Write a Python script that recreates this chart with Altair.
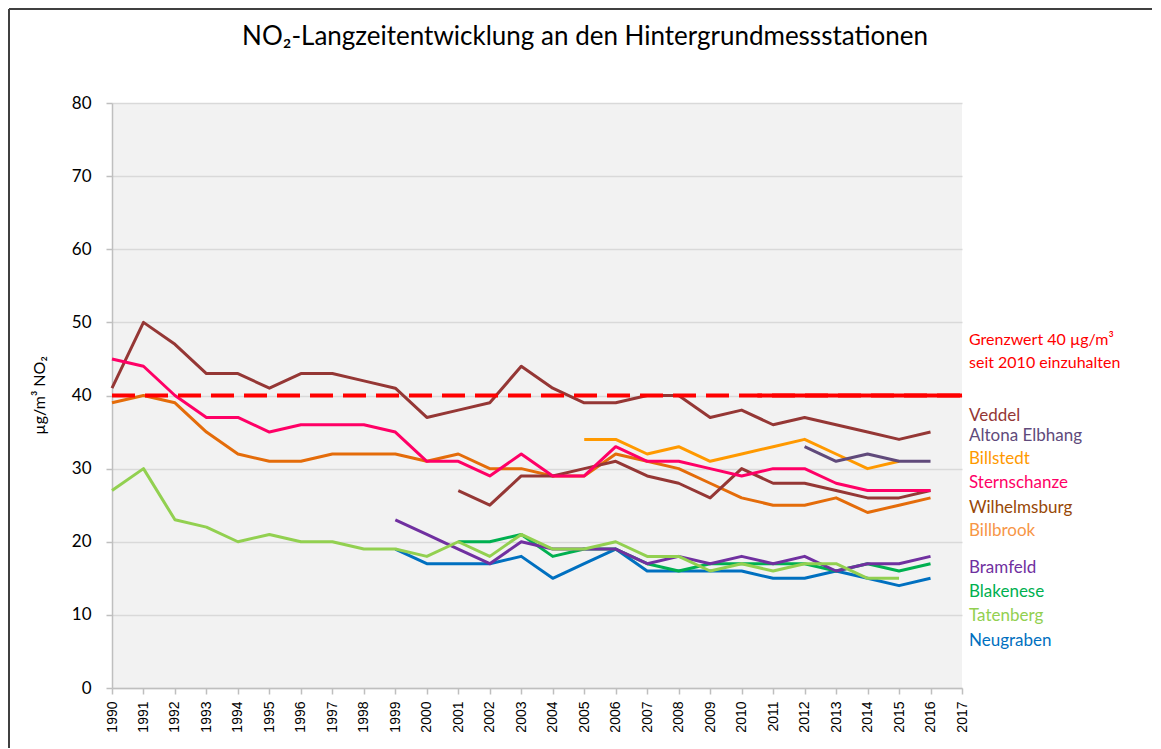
import altair as alt
import pandas as pd

# ---------------- data ----------------
TITLE = "NO₂-Langzeitentwicklung an den Hintergrundmessstationen"
Y_TITLE = "µg/m³ NO₂"

tick_years = list(range(1990, 2018))
y_ticks = [0, 10, 20, 30, 40, 50, 60, 70, 80]

veddel = [41, 50, 47, 43, 43, 41, 43, 43, 42, 41, 37, 38, 39, 44, 41, 39, 39, 40, 40, 37, 38, 36, 37, 36, 35, 34, 35]
billbrook = [39, 40, 39, 35, 32, 31, 31, 32, 32, 32, 31, 32, 30, 30, 29, 29, 32, 31, 30, 28, 26, 25, 25, 26, 24, 25, 26]
wilhelmsburg = [27, 25, 29, 29, 30, 31, 29, 28, 26, 30, 28, 28, 27, 26, 26, 27]
billstedt = [34, 34, 32, 33, 31, 32, 33, 34, 32, 30, 31]
altona = [33, 31, 32, 31, 31]
sternschanze = [45, 44, 40, 37, 37, 35, 36, 36, 36, 35, 31, 31, 29, 32, 29, 29, 33, 31, 31, 30, 29, 30, 30, 28, 27, 27, 27]
neugraben = [19, 17, 17, 17, 18, 15, 17, 19, 16, 16, 16, 16, 15, 15, 16, 15, 14, 15]
blakenese = [20, 20, 21, 18, 19, 19, 17, 16, 17, 17, 17, 17, 16, 17, 16, 17]
bramfeld = [23, 21, 19, 17, 20, 19, 19, 19, 17, 18, 17, 18, 17, 18, 16, 17, 17, 18]
tatenberg = [27, 30, 23, 22, 20, 21, 20, 20, 19, 19, 18, 20, 18, 21, 19, 19, 20, 18, 18, 16, 17, 16, 17, 17, 15, 15]

series_names = ["Veddel", "Billbrook", "Wilhelmsburg", "Billstedt", "Altona Elbhang",
                "Sternschanze", "Neugraben", "Blakenese", "Bramfeld", "Tatenberg"]
series_start = [1990, 1990, 2001, 2005, 2012, 1990, 1999, 2001, 1999, 1990]
series_values = [veddel, billbrook, wilhelmsburg, billstedt, altona,
                 sternschanze, neugraben, blakenese, bramfeld, tatenberg]
line_colors = ["#953735", "#E46C0A", "#953735", "#FF9900", "#604A7B",
               "#FF0066", "#0070C0", "#00B050", "#7030A0", "#92D050"]

limit_value = 40
limit_dashed_years = [1990, 2017]
limit_solid_years = [2010.5, 2017]

note_texts = ["Grenzwert 40 µg/m³", "seit 2010 einzuhalten"]
note_y = [47.6, 44.4]

label_texts = ["Veddel", "Altona Elbhang", "Billstedt", "Sternschanze", "Wilhelmsburg",
               "Billbrook", "Bramfeld", "Blakenese", "Tatenberg", "Neugraben"]
label_y = [37.2, 34.5, 31.3, 28.0, 24.6, 21.5, 16.4, 13.1, 9.8, 6.4]
label_colors = ["#953735", "#604A7B", "#FF9900", "#FF0066", "#984807",
                "#F79646", "#7030A0", "#00B050", "#92D050", "#0070C0"]

# ---------------- tables ----------------
rows = []
for name, start, vals in zip(series_names, series_start, series_values):
    for i, v in enumerate(vals):
        rows.append({"series": name, "year": start + i, "value": v})
df = pd.DataFrame(rows)

dash_df = pd.DataFrame({"year": limit_dashed_years, "value": [limit_value] * len(limit_dashed_years)})
solid_df = pd.DataFrame({"year": limit_solid_years, "value": [limit_value] * len(limit_solid_years)})
lab_df = pd.DataFrame({"label": label_texts, "value": label_y})
note_df = pd.DataFrame({"label": note_texts, "value": note_y})
one = pd.DataFrame({"k": [0]})

W, H = 850, 585

x_axis = alt.Axis(values=tick_years, format="d", labelAngle=270, labelAlign="right",
                  labelBaseline="middle", grid=False, labelFont="Liberation Sans",
                  labelFontSize=14, labelColor="#000000", tickSize=6, labelPadding=7,
                  domainColor="#BFBFBF", tickColor="#BFBFBF", domainWidth=1.5,
                  tickWidth=1.5, labelOverlap=False, labelFlush=False, title=None)
y_axis = alt.Axis(values=y_ticks, grid=True, gridColor="#D9D9D9", gridWidth=1.5,
                  domainColor="#BFBFBF", tickColor="#BFBFBF", domainWidth=1.5,
                  tickWidth=1.5, tickSize=6, labelPadding=15, labelFont="Lato",
                  labelFontSize=17, labelColor="#000000", title=Y_TITLE,
                  titleFont="Lato", titleFontSize=16, titleFontWeight="normal",
                  titleColor="#000000", titleAngle=270, titleX=-73, titleY=292,
                  titleAlign="center", titleBaseline="middle")
x_scale = alt.Scale(domain=[1990, 2017], nice=False, zero=False)
y_scale = alt.Scale(domain=[0, 80], nice=False)


def xe():
    return alt.X("year:Q", scale=x_scale, axis=x_axis)


def ye():
    return alt.Y("value:Q", scale=y_scale, axis=y_axis)


lines = alt.Chart(df).mark_line(strokeWidth=3, strokeJoin="round").encode(
    x=xe(), y=ye(),
    color=alt.Color("series:N", scale=alt.Scale(domain=series_names, range=line_colors), legend=None),
)

limit_dash = alt.Chart(dash_df).mark_line(strokeWidth=4, color="#FF0000", strokeDash=[23, 10]).encode(
    x=xe(), y=ye())
limit_solid = alt.Chart(solid_df).mark_line(strokeWidth=4, color="#FF0000").encode(
    x=xe(), y=ye())

labels = alt.Chart(lab_df).mark_text(align="left", baseline="middle", font="Lato", fontSize=17).encode(
    x=alt.value(857),
    y=ye(),
    text="label:N",
    color=alt.Color("label:N", scale=alt.Scale(domain=label_texts, range=label_colors), legend=None),
)

notes = alt.Chart(note_df).mark_text(align="left", baseline="middle", font="Lato", fontSize=16,
                                     color="#FF0000").encode(
    x=alt.value(857), y=ye(), text="label:N")

title = alt.Chart(one).mark_text(align="center", baseline="alphabetic", font="Lato",
                                 fontSize=26, color="#000000").encode(
    x=alt.value(473), y=alt.value(-58), text=alt.value(TITLE))

frame_top = alt.Chart(one).mark_rule(stroke="#404040", strokeWidth=2).encode(
    x=alt.value(-103), x2=alt.value(1100), y=alt.value(-94))
frame_left = alt.Chart(one).mark_rule(stroke="#404040", strokeWidth=2).encode(
    x=alt.value(-103), y=alt.value(-94), y2=alt.value(700))

chart = alt.layer(frame_top, frame_left, title, lines, limit_solid, limit_dash, notes, labels).resolve_scale(
    color="independent"
).properties(
    width=W, height=H,
    autosize=alt.AutoSizeParams(type="none"),
    padding={"left": 104, "top": 95, "right": 190, "bottom": 60},
    background="#FFFFFF",
).configure_view(fill="#F2F2F2", strokeWidth=0)

chart.save("out.html", embed_options={"renderer": "svg", "actions": False})
